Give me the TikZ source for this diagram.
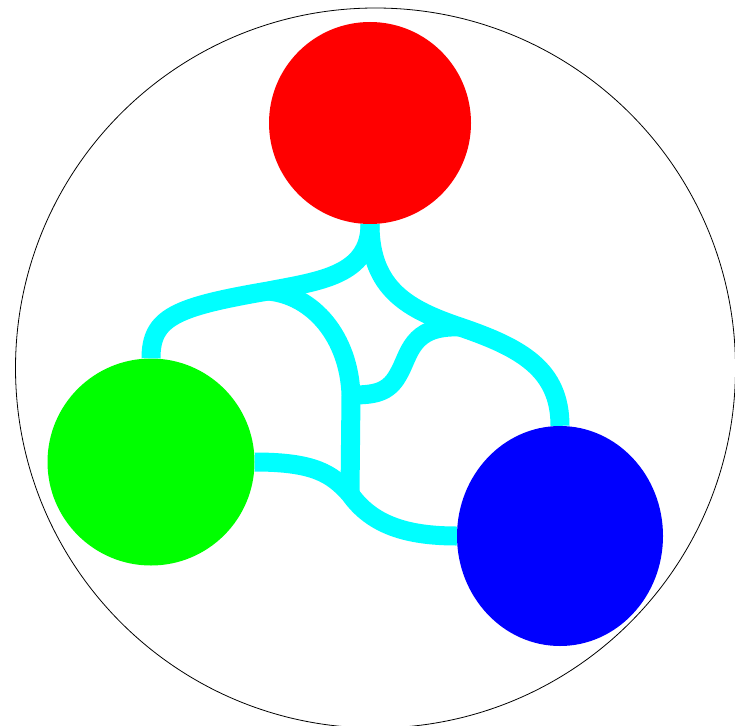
\documentclass[tikz,border=0pt]{standalone}
\usetikzlibrary{positioning,shapes.geometric}
\definecolor{wirecolor}{RGB}{0,255,255}
\definecolor{topcolor}{RGB}{255,0,0}
\definecolor{leftcolor}{RGB}{0,255,0}
\definecolor{rightcolor}{RGB}{0,0,255}

\begin{document}
\begin{tikzpicture}[x=1pt, y=-1pt,
    blob/.style={circle, inner sep=0pt, minimum size=#1},
    wire/.style={line width=19pt, wirecolor}]
  \useasboundingbox (0,0) rectangle (735,725);
  % outer ring
  \draw[line width=0.8pt] (375.5,368) circle (360pt);
  % the three blobs
  \node[blob=202pt, fill=topcolor] (top) at (370,123) {};
  \node[blob=207pt, fill=leftcolor] (left) at (151,462) {};
  \node[ellipse, inner sep=0pt, minimum width=206pt, minimum height=220pt,
        fill=rightcolor] (right) at (560,536) {};
  % junctions of the wires
  \coordinate (j1) at (268,291);
  \coordinate (j2) at (460,327);
  \coordinate (j3) at (351,395);
  \coordinate (j4) at (350,494);
  \coordinate (kink) at (398,375);
  % wires: top to left and top to right
  \draw[wire] (top.south) .. controls +(0,51) and +(52,-10) .. (j1)
    .. controls +(-93,16) and +(0,-41) .. (left.north);
  \draw[wire] (top.south) .. controls +(0,66) and +(-50,-17) .. (j2)
    .. controls +(62,21) and +(0,-56) .. (right.north);
  % inner branches
  \draw[wire] (j1) .. controls +(45,4) and +(-2,-58) .. (j3) -- (j4);
  \draw[wire] (j2) .. controls +(-50,-2) and +(12,-20) .. (kink)
    .. controls +(-10,18) and +(23,0) .. (j3);
  % bottom wire, left to right
  \draw[wire] (left.east) .. controls +(60,0) and +(-18,-20) .. (j4)
    .. controls +(22,31) and +(-50,0) .. (right.west);
\end{tikzpicture}
\end{document}
